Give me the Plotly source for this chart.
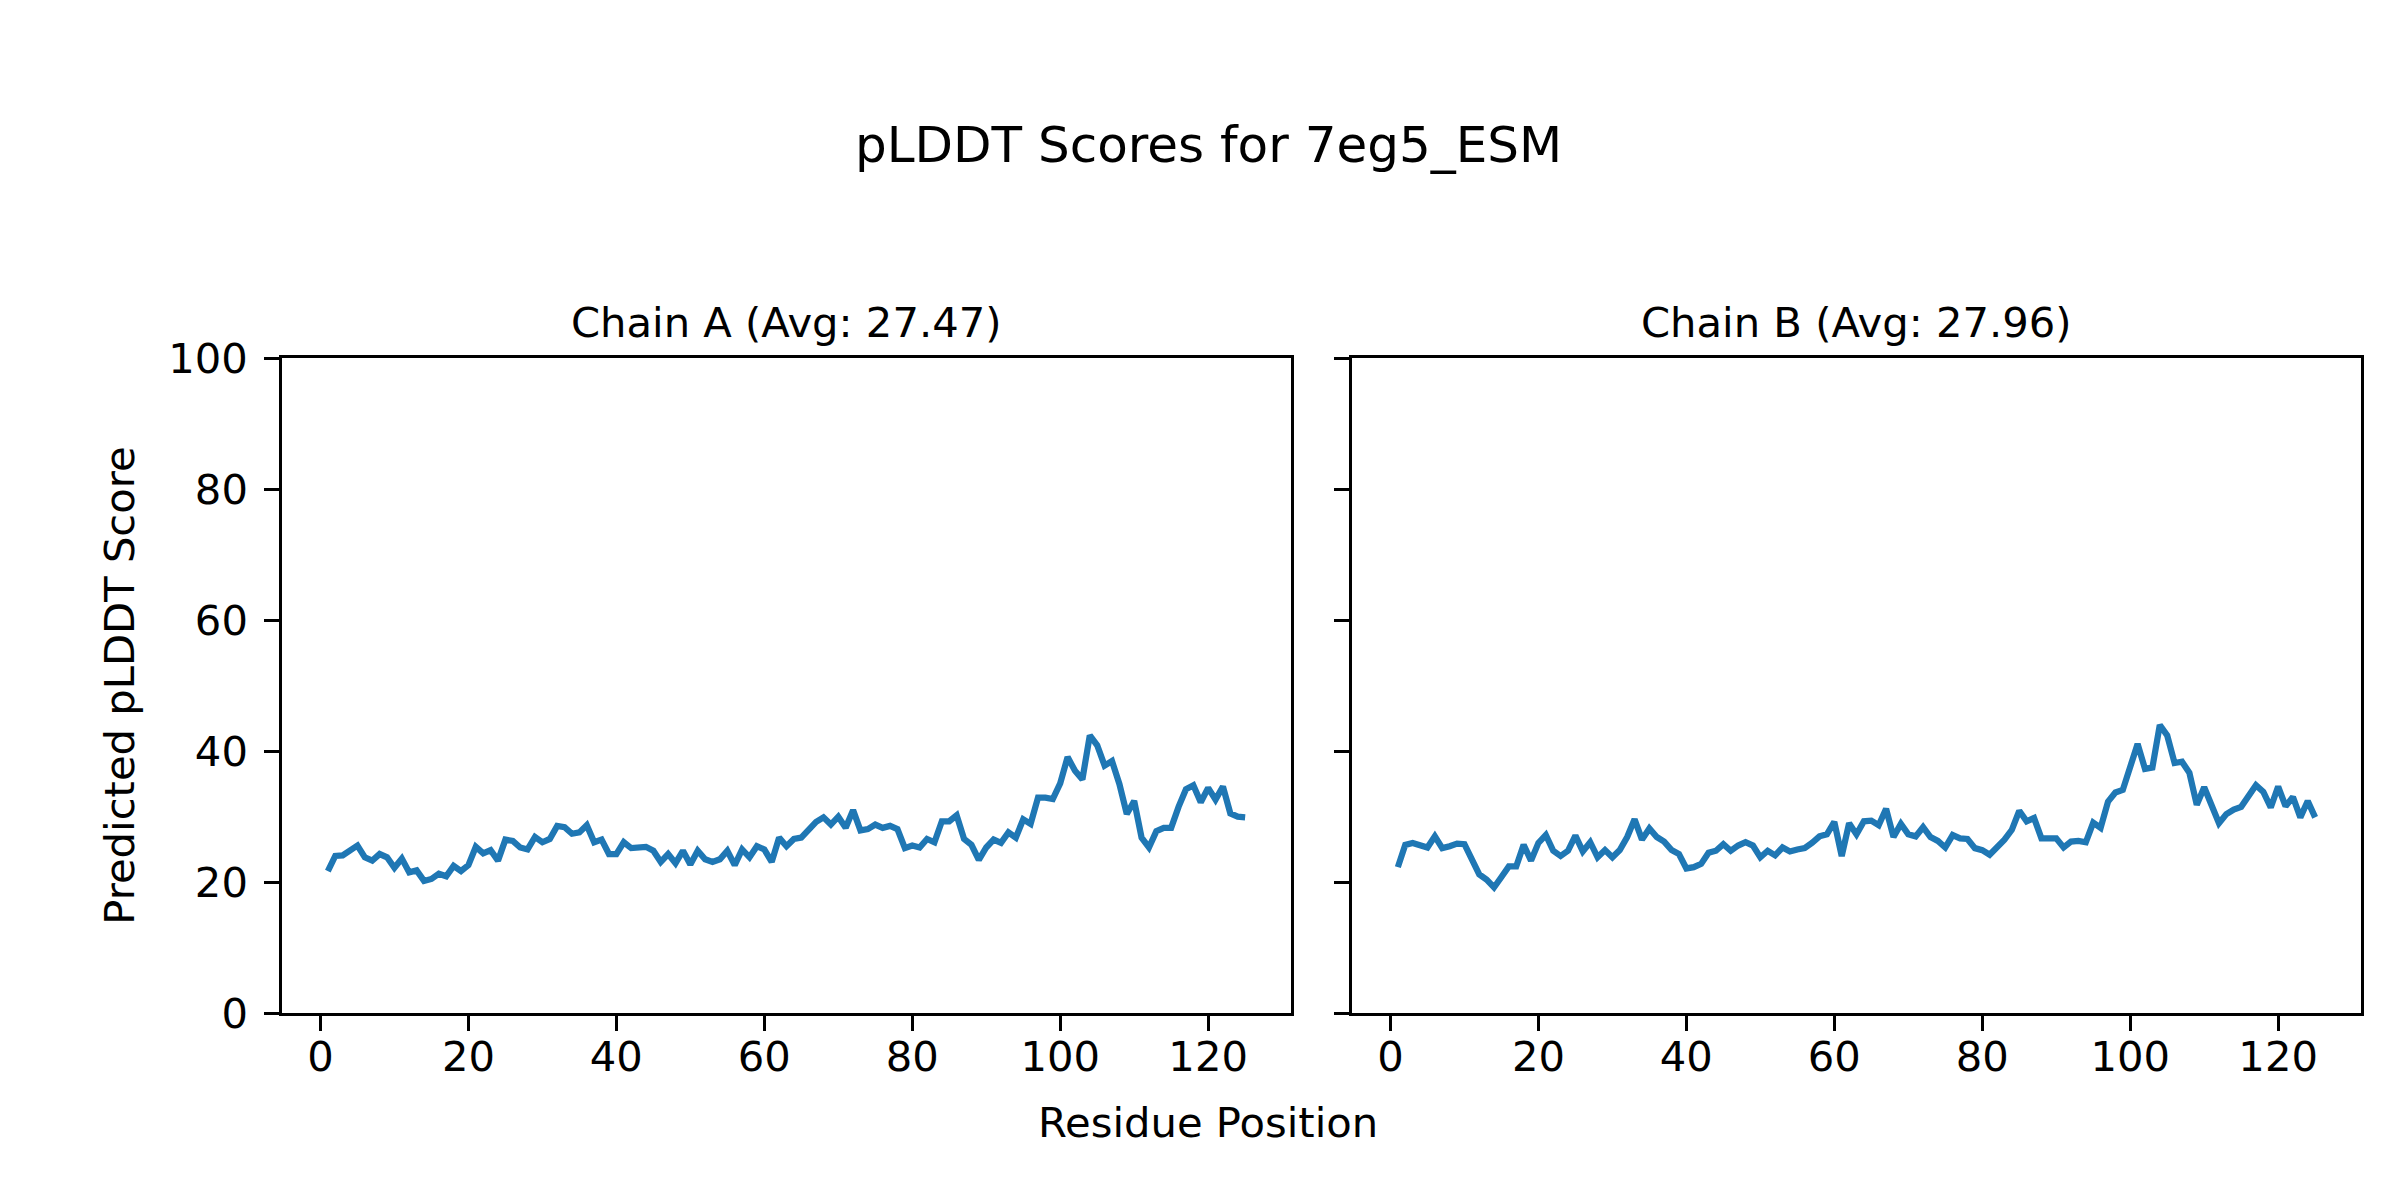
import plotly.graph_objects as go

residues = list(range(1, 126))

chain_a = [
    21.7, 24.0, 24.1, 25.0, 25.6, 23.8, 23.3, 24.3, 23.8, 22.2,
    23.6, 21.5, 21.8, 20.2, 20.5, 21.3, 20.9, 22.5, 21.7, 22.6,
    25.4, 24.4, 24.9, 23.3, 26.5, 26.3, 25.3, 25.0, 26.9, 26.1,
    26.6, 28.6, 28.4, 27.4, 27.6, 28.7, 26.1, 26.5, 24.3, 24.3,
    26.1, 25.2, 25.3, 25.4, 24.8, 23.1, 24.3, 22.9, 24.8, 22.7,
    24.8, 23.5, 23.1, 23.5, 24.8, 22.6, 25.0, 23.8, 25.5, 25.0,
    23.1, 26.8, 25.5, 26.6, 26.8, 27.9, 29.2, 29.9, 28.8, 30.0,
    28.3, 31.0, 27.9, 28.1, 28.8, 28.3, 28.6, 28.1, 25.2, 25.6,
    25.3, 26.6, 26.1, 29.3, 29.3, 30.2, 26.6, 25.7, 23.4, 25.3,
    26.5, 26.0, 27.6, 26.8, 29.6, 28.9, 32.9, 32.9, 32.7, 35.1,
    39.1, 37.0, 35.7, 42.4, 40.9, 37.8, 38.5, 35.0, 30.4, 32.4,
    26.8, 25.3, 27.8, 28.3, 28.3, 31.5, 34.2, 34.8, 32.2, 34.4,
    32.6, 34.6, 30.5, 30.0, 29.9,
]

chain_b = [
    22.3, 25.7, 26.0, 25.7, 25.3, 27.0, 25.2, 25.5, 25.9, 25.8,
    23.2, 21.2, 20.4, 19.2, 20.8, 22.4, 22.4, 25.7, 23.3, 26.0,
    27.2, 24.8, 24.0, 24.8, 27.1, 24.7, 26.1, 23.8, 24.9, 23.8,
    24.9, 26.9, 29.6, 26.5, 28.2, 26.9, 26.2, 24.9, 24.3, 22.1,
    22.3, 22.8, 24.5, 24.8, 25.8, 24.8, 25.6, 26.1, 25.6, 23.8,
    24.8, 24.1, 25.3, 24.7, 25.0, 25.2, 26.0, 27.0, 27.3, 29.2,
    24.0, 29.0, 27.3, 29.3, 29.4, 28.7, 31.2, 26.9, 28.9, 27.3,
    27.0, 28.4, 26.9, 26.3, 25.3, 27.2, 26.7, 26.6, 25.2, 24.9,
    24.2, 25.3, 26.5, 28.0, 30.9, 29.3, 29.8, 26.7, 26.7, 26.7,
    25.3, 26.2, 26.3, 26.1, 29.1, 28.3, 32.3, 33.7, 34.1, 37.8,
    41.1, 37.3, 37.5, 44.0, 42.4, 38.2, 38.4, 36.7, 31.8, 34.5,
    31.6, 29.0, 30.4, 31.1, 31.5, 33.1, 34.8, 33.8, 31.4, 34.6,
    31.6, 33.0, 29.9, 32.4, 29.9,
]

x_ticks = [0, 20, 40, 60, 80, 100, 120]
y_ticks = [0, 20, 40, 60, 80, 100]

suptitle = "pLDDT Scores for 7eg5_ESM"
titles = ["Chain A (Avg: 27.47)", "Chain B (Avg: 27.96)"]
x_label = "Residue Position"
y_label = "Predicted pLDDT Score"

FONT = "DejaVu Sans"
LINE_COLOR = "#1f77b4"
TICK_SIZE = 41.7

fig = go.Figure()
fig.add_trace(go.Scatter(x=residues, y=chain_a, mode="lines",
                         line=dict(color=LINE_COLOR, width=6.25),
                         xaxis="x", yaxis="y", showlegend=False))
fig.add_trace(go.Scatter(x=residues, y=chain_b, mode="lines",
                         line=dict(color=LINE_COLOR, width=6.25),
                         xaxis="x2", yaxis="y2", showlegend=False))

dom_a = [274 / 2400, 1283 / 2400]
dom_b = [1344 / 2400, 2353 / 2400]
dom_y = [1 - 1023 / 1200, 1 - 340 / 1200]

def xax(domain, anchor):
    return dict(domain=domain, anchor=anchor, range=[-5.2, 131.2],
                tickmode="array", tickvals=x_ticks,
                ticks="outside", ticklen=14.6, tickwidth=3.3, tickcolor="black",
                showline=True, linecolor="black", linewidth=3.3, mirror=True,
                showgrid=False, zeroline=False,
                tickfont=dict(family=FONT, size=TICK_SIZE, color="black"),
                ticklabelstandoff=-10)

def yax(domain, anchor, labels=True):
    return dict(domain=domain, anchor=anchor, range=[0, 100],
                tickmode="array", tickvals=y_ticks,
                showticklabels=labels,
                ticks="outside", ticklen=14.6, tickwidth=3.3, tickcolor="black",
                showline=True, linecolor="black", linewidth=3.3, mirror=True,
                showgrid=False, zeroline=False,
                tickfont=dict(family=FONT, size=TICK_SIZE, color="black"),
                ticklabelstandoff=8)

annotations = [
    dict(text=suptitle, x=0.5, y=1 - 118 / 1200, xref="paper", yref="paper",
         showarrow=False, xanchor="center", yanchor="middle",
         font=dict(family=FONT, size=50, color="black")),
    dict(text=titles[0], x=(dom_a[0] + dom_a[1]) / 2, y=1 - 303 / 1200,
         xref="paper", yref="paper", showarrow=False,
         xanchor="center", yanchor="middle",
         font=dict(family=FONT, size=41.7, color="black")),
    dict(text=titles[1], x=(dom_b[0] + dom_b[1]) / 2, y=1 - 303 / 1200,
         xref="paper", yref="paper", showarrow=False,
         xanchor="center", yanchor="middle",
         font=dict(family=FONT, size=41.7, color="black")),
    dict(text=x_label, x=0.5, y=1 - 1137 / 1200, xref="paper", yref="paper",
         showarrow=False, xanchor="center", yanchor="middle",
         font=dict(family=FONT, size=41.7, color="black")),
    dict(text=y_label, x=112 / 2400, y=(dom_y[0] + dom_y[1]) / 2,
         xref="paper", yref="paper", showarrow=False, textangle=-90,
         xanchor="center", yanchor="middle",
         font=dict(family=FONT, size=41.7, color="black")),
]

fig.update_layout(
    width=2400, height=1200,
    margin=dict(l=0, r=0, t=0, b=0),
    paper_bgcolor="white", plot_bgcolor="white",
    xaxis=xax(dom_a, "y"),
    yaxis=yax(dom_y, "x"),
    xaxis2=xax(dom_b, "y2"),
    yaxis2=yax(dom_y, "x2", labels=False),
    annotations=annotations,
    font=dict(family=FONT, color="black"),
)

fig.write_html("out.html")
